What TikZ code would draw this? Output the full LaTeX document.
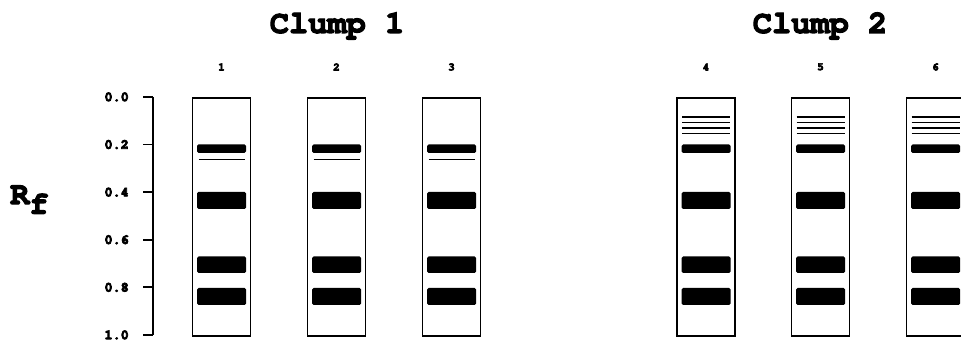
\documentclass[tikz,border=0pt]{standalone}
\newcommand\cour{\fontencoding{T1}\fontfamily{pcr}\bfseries\selectfont}
\newcommand\fb[2]{\special{pdf:literal direct 2 Tr #1 w}#2\special{pdf:literal direct 0 Tr}}
\begin{document}
\begin{tikzpicture}[x=1pt,y=-1pt,
  lane/.style={draw=black,line width=1.8pt,fill=white,minimum width=58pt,minimum height=238pt,inner sep=0pt,anchor=north},
  band/.style={fill=black,rounded corners=1.5pt},
  thin/.style={draw=black,line width=1.7pt},
  tick/.style={line width=1.8pt},
  ticklab/.style={font=\fontsize{13.5}{14}\cour,anchor=east,inner sep=0pt},
  lanenum/.style={font=\fontsize{11}{12}\cour,inner sep=0pt},
  title/.style={font=\fontsize{32}{34}\cour,inner sep=0pt}]
\useasboundingbox (0,0) rectangle (961,344);
\clip (0,0) rectangle (961,344);
% titles
\node[title] (t1) at (337,25) {\fb{1.2}{Clump 1}};
\node[title] (t2) at (820,25) {\fb{1.2}{Clump 2}};
% Rf
\node[font=\fontsize{32}{34}\cour,inner sep=0pt,anchor=west] (rf) at (10,200) {\fb{1.2}{R\raisebox{-0.3em}{f}}};
% axis
\coordinate (atop) at (153,97);
\coordinate (abot) at (153,335);
\draw[tick] (atop) -- (abot);
\foreach \r/\lab [count=\i] in {0/0.0,0.2/0.2,0.4/0.4,0.6/0.6,0.8/0.8,1/1.0}{
  \coordinate (tk\i) at (153,97+238*\r);
  \coordinate (tl\i) at (143,97+238*\r);
  \draw[tick] (tl\i) -- (tk\i);
  \node[ticklab] (lab\i) at (129,97+238*\r) {\fb{0.8}{\lab}};
}
% lanes
\foreach \n/\cx in {1/221.5,2/336.5,3/451.5,4/706,5/820.5,6/935.5}{
  \node[lane] (L\n) at (\cx,97) {};
  \node[lanenum] (N\n) at (\cx,67) {\fb{0.6}{\n}};
  \fill[band] (\cx-24.5,192) rectangle (\cx+24.5,209);
  \fill[band] (\cx-24.5,256.5) rectangle (\cx+24.5,273);
  \fill[band] (\cx-24.5,288) rectangle (\cx+24.5,305);
  \fill[band] (\cx-24.5,144.5) rectangle (\cx+24.5,153);
}
% clump 1 thin lines
\foreach \cx in {221.5,336.5,451.5}{
  \draw[thin] (\cx-23,159.5) -- (\cx+23,159.5);
}
% clump 2 thin lines
\foreach \cx in {706,820.5,935.5}{
  \foreach \yy in {117,122.5,128,133.5}{
    \draw[thin] (\cx-24,\yy) -- (\cx+24,\yy);
  }
}
\end{tikzpicture}
\end{document}
